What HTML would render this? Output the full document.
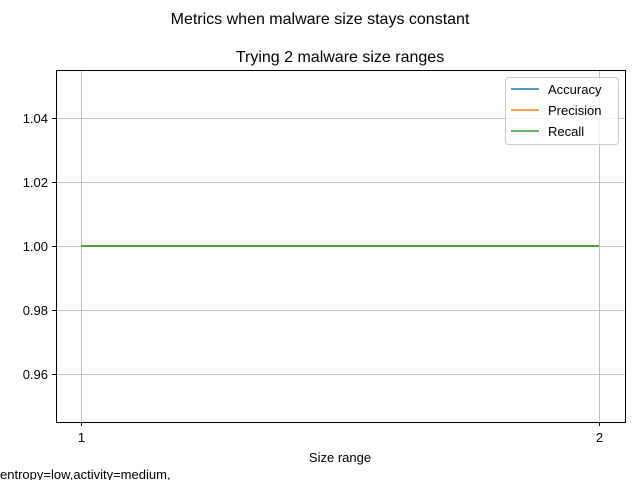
<!DOCTYPE html>
<html><head><meta charset="utf-8"><style>
body{margin:0;background:#fff;}
svg{display:block;font-family:"Liberation Sans","DejaVu Sans",sans-serif;}
</style></head><body>
<svg id="chart" width="640" height="480" xmlns="http://www.w3.org/2000/svg">
<text x="320" y="24" text-anchor="middle" font-size="16">Metrics when malware size stays constant</text>
<text x="340" y="62" text-anchor="middle" font-size="16">Trying 2 malware size ranges</text>
<g id="grid"></g>
<g id="series"></g>
<rect x="56.5" y="70.5" width="569" height="352" fill="none" stroke="#000" stroke-width="1"/>
<g id="ticks" font-size="13"></g>
<text x="340" y="462" text-anchor="middle" font-size="13">Size range</text>
<text x="0" y="479" font-size="13">entropy=low,activity=medium,</text>
<g>
<rect x="505.5" y="77.5" width="113" height="67" rx="3" fill="#fff" fill-opacity="0.8" stroke="#ccc"/>
<line x1="511" y1="89" x2="539" y2="89" stroke="#1f77b4" stroke-width="1.5"/>
<text x="548" y="94" font-size="13">Accuracy</text>
<line x1="511" y1="110" x2="539" y2="110" stroke="#ff7f0e" stroke-width="1.5"/>
<text x="548" y="115" font-size="13">Precision</text>
<line x1="511" y1="131" x2="539" y2="131" stroke="#2ca02c" stroke-width="1.5"/>
<text x="548" y="136" font-size="13">Recall</text>
</g>
</svg>
<script>
const categories=[1,2];
const accuracy=[1.0,1.0];
const precision=[1.0,1.0];
const recall=[1.0,1.0];
const yTicks=[0.96,0.98,1.00,1.02,1.04];
const xTicks=[1,2];
const NS="http://www.w3.org/2000/svg";
function xs(v){return 81+(v-1)*518;}
function ys(v){return 246-(v-1)*3200;}
function mk(t,a,p){const e=document.createElementNS(NS,t);for(const k in a)e.setAttribute(k,a[k]);p.appendChild(e);return e;}
const grid=document.getElementById('grid'),ticks=document.getElementById('ticks'),ser=document.getElementById('series');
yTicks.forEach(v=>{const y=Math.round(ys(v))+0.5;
const g=mk('line',{x1:56,x2:625,y1:y,y2:y,stroke:'#b0b0b0','stroke-width':0.8},grid);


mk('line',{x1:52,x2:56,y1:y,y2:y,stroke:'#000'},ticks);
const t=mk('text',{x:48,y:y+4.5,'text-anchor':'end'},ticks);t.textContent=v.toFixed(2);

});
xTicks.forEach(v=>{const x=Math.round(xs(v))+0.5;
const g=mk('line',{x1:x,x2:x,y1:70,y2:422,stroke:'#b0b0b0','stroke-width':0.8},grid);


mk('line',{x1:x,x2:x,y1:422,y2:426,stroke:'#000'},ticks);
const t=mk('text',{x:x,y:442,'text-anchor':'middle'},ticks);t.textContent=v;

});
[[accuracy,'#1f77b4','accuracy-line'],[precision,'#ff7f0e','precision-line'],[recall,'#2ca02c','recall-line']].forEach(([d,c,n])=>{
const p=mk('polyline',{points:categories.map((v,i)=>xs(v)+','+ys(d[i])).join(' '),fill:'none',stroke:c,'stroke-width':1.5},ser);

});
</script>
</body></html>
